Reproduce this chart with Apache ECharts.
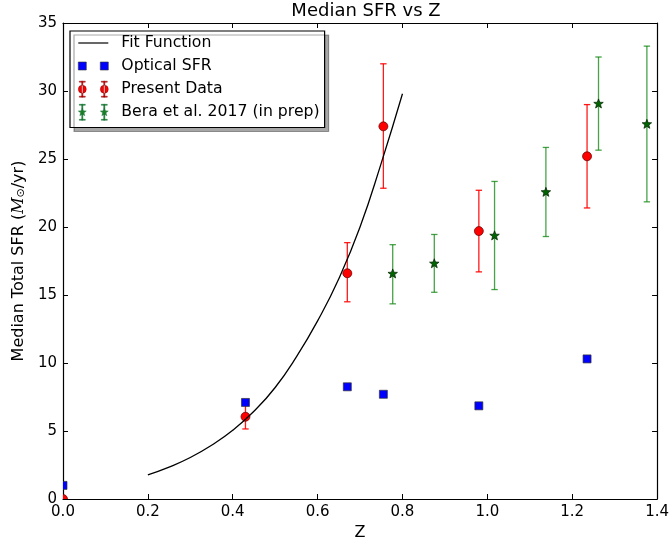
<!DOCTYPE html>
<html><head><meta charset="utf-8">
<script src="https://cdn.jsdelivr.net/npm/echarts@6/dist/echarts.min.js"></script>
<style>html,body{margin:0;padding:0;background:#fff}#c{width:672px;height:547px}</style>
</head><body><div id="c"></div>
<script>
// ---- data ----
const fitZ   = [0.20, 0.25, 0.30, 0.35, 0.40, 0.45, 0.50, 0.55, 0.60, 0.65, 0.70, 0.75, 0.80];
const fitSFR = [1.78, 2.35, 3.05, 3.95, 5.05, 6.45, 8.2, 10.45, 13.1, 16.2, 20.0, 24.7, 29.8];

const opticalZ   = [0, 0.43, 0.67, 0.755, 0.98, 1.235];
const opticalSFR = [1.0, 7.1, 8.25, 7.7, 6.85, 10.3];

const presentZ   = [0, 0.43, 0.67, 0.755, 0.98, 1.235];
const presentSFR = [0, 6.05, 16.6, 27.4, 19.7, 25.2];
const presentLo  = [0, 5.15, 14.5, 22.85, 16.7, 21.4];
const presentHi  = [0, 6.95, 18.85, 32.0, 22.7, 29.0];

const beraZ   = [0.777, 0.875, 1.017, 1.138, 1.262, 1.376];
const beraSFR = [16.55, 17.3, 19.35, 22.55, 29.05, 27.55];
const beraLo  = [14.35, 15.2, 15.4, 19.3, 25.65, 21.85];
const beraHi  = [18.7, 19.45, 23.35, 25.85, 32.5, 33.3];

const xTicks = [0, 0.2, 0.4, 0.6, 0.8, 1.0, 1.2, 1.4];
const yTicks = [0, 5, 10, 15, 20, 25, 30, 35];

const title = 'Median SFR vs Z';
const legendNames = ['Fit Function', 'Optical SFR', 'Present Data', 'Bera et al. 2017 (in prep)'];

// ---- helpers ----
const FONT = 'DejaVu Sans';
function starPath(cx, cy, R, r) {
  let d = '';
  for (let i = 0; i < 10; i++) {
    const ang = (-90 + i * 36) * Math.PI / 180;
    const rad = i % 2 === 0 ? R : r;
    const x = (cx + rad * Math.cos(ang)).toFixed(3);
    const y = (cy + rad * Math.sin(ang)).toFixed(3);
    d += (i === 0 ? 'M' : 'L') + x + ',' + y + ' ';
  }
  return d + 'Z';
}
function circlePath(cx, cy, r) {
  return `M${cx - r},${cy} a${r},${r} 0 1,0 ${2 * r},0 a${r},${r} 0 1,0 ${-2 * r},0 Z`;
}
function errPath(cx) {
  return `M${cx - 0.6},0 L${cx + 0.6},0 L${cx + 0.6},16 L${cx - 0.6},16 Z ` +
         `M${cx - 3},0 L${cx + 3},0 L${cx + 3},1 L${cx - 3},1 Z ` +
         `M${cx - 3},15 L${cx + 3},15 L${cx + 3},16 L${cx - 3},16 Z`;
}
const bbox = 'M0,0 L0,0 M38,16 L38,16 ';
const iconLine = 'path://' + bbox + 'M0,7.4 L30,7.4 L30,8.6 L0,8.6 Z';
const iconSquares = 'path://' + bbox + 'M0,4 L8,4 L8,12 L0,12 Z M22,4 L30,4 L30,12 L22,12 Z';
const iconPresent = 'path://' + bbox + errPath(4) + ' ' + errPath(26) + ' ' + circlePath(4, 8, 4) + ' ' + circlePath(26, 8, 4);
const iconBera = 'path://' + bbox + errPath(4) + ' ' + errPath(26) + ' ' + starPath(4, 8, 4.2, 1.8) + ' ' + starPath(26, 8, 4.2, 1.8);

function errRender(color) {
  return function (params, api) {
    const x = api.value(0), lo = api.value(2), hi = api.value(3);
    if (lo === hi) return null;
    const a = api.coord([x, lo]), b = api.coord([x, hi]);
    const w = 3.2;
    const st = { stroke: color, lineWidth: 1.3 };
    return {
      type: 'group', children: [
        { type: 'line', shape: { x1: a[0], y1: a[1], x2: b[0], y2: b[1] }, style: st },
        { type: 'line', shape: { x1: a[0] - w, y1: a[1], x2: a[0] + w, y2: a[1] }, style: st },
        { type: 'line', shape: { x1: b[0] - w, y1: b[1], x2: b[0] + w, y2: b[1] }, style: st }
      ]
    };
  };
}
function markerRender(kind, fill, stroke) {
  return function (params, api) {
    const p = api.coord([api.value(0), api.value(1)]);
    const style = { fill: fill, stroke: stroke, lineWidth: 0.7 };
    if (kind === 'circle') return { type: 'circle', shape: { cx: p[0], cy: p[1], r: 4.5 }, style };
    if (kind === 'rect') return { type: 'rect', shape: { x: p[0] - 4, y: p[1] - 4, width: 8, height: 8 }, style };
    return { type: 'path', shape: { pathData: starPath(p[0], p[1], 5, 2.1) }, style };
  };
}
const zip2 = (xs, ys) => xs.map((x, i) => [x, ys[i]]);
const zip4 = (xs, ys, lo, hi) => xs.map((x, i) => [x, ys[i], lo[i], hi[i]]);

const axisCommon = {
  axisLine: { show: true, onZero: false, lineStyle: { color: '#000', width: 1.2 } },
  axisTick: { show: true, inside: true, length: 5, lineStyle: { color: '#000', width: 1 } },
  splitLine: { show: false }
};

const chart = echarts.init(document.getElementById('c'), null, { renderer: 'canvas' });
chart.setOption({
  animation: false,
  backgroundColor: '#fff',
  title: {
    text: title, left: 361, top: -3, textAlign: 'center',
    textStyle: { fontFamily: FONT, fontSize: 18, fontWeight: 'normal', color: '#000' }
  },
  grid: { left: 63, right: 13, top: 23, bottom: 48, containLabel: false },
  legend: {
    orient: 'vertical', left: 70, top: 31,
    padding: [4, 5, 7, 8],
    itemWidth: 38, itemHeight: 16, itemGap: 6.7,
    backgroundColor: '#fff', borderColor: '#000', borderWidth: 1.2, borderRadius: 0,
    shadowColor: 'rgba(0,0,0,0.35)', shadowOffsetX: 4, shadowOffsetY: 4, shadowBlur: 0,
    textStyle: { fontFamily: FONT, fontSize: 15.7, color: '#000', lineHeight: 16 },
    selectedMode: false,
    data: [
      { name: legendNames[0], icon: iconLine, itemStyle: { color: '#000', borderWidth: 0 } },
      { name: legendNames[1], icon: iconSquares, itemStyle: { color: '#0000ff', borderColor: '#333', borderWidth: 0.6 } },
      { name: legendNames[2], icon: iconPresent, itemStyle: { color: '#ff0000', borderColor: '#600', borderWidth: 0.4 } },
      { name: legendNames[3], icon: iconBera, itemStyle: { color: '#2a8a2a', borderColor: '#063', borderWidth: 0.4 } }
    ]
  },
  xAxis: [
    Object.assign({
      type: 'value', min: xTicks[0], max: xTicks[xTicks.length - 1], interval: 0.2,
      position: 'bottom',
      name: 'Z', nameLocation: 'middle', nameGap: 25,
      nameTextStyle: { fontFamily: FONT, fontSize: 16, color: '#000' },
      axisLabel: { show: true, margin: 6, fontFamily: FONT, fontSize: 15, color: '#000',
        formatter: v => v.toFixed(1) }
    }, axisCommon),
    Object.assign({
      type: 'value', min: xTicks[0], max: xTicks[xTicks.length - 1], interval: 0.2,
      position: 'top', axisLabel: { show: false }
    }, axisCommon)
  ],
  yAxis: [
    Object.assign({
      type: 'value', min: yTicks[0], max: yTicks[yTicks.length - 1], interval: 5,
      position: 'left',
      name: '{n|Median Total SFR (}{m|M}{s|⊙}{n|/yr)}', nameLocation: 'middle', nameGap: 35, nameRotate: 90,
      nameTextStyle: {
        fontFamily: FONT, fontSize: 16, color: '#000',
        rich: {
          n: { fontFamily: FONT, fontSize: 16, color: '#000' },
          m: { fontFamily: 'DejaVu Serif', fontStyle: 'italic', fontSize: 16, color: '#000' },
          s: { fontFamily: FONT, fontSize: 11, color: '#000', padding: [6, 0, 0, 0] }
        }
      },
      axisLabel: { show: true, margin: 6, fontFamily: FONT, fontSize: 15, color: '#000' }
    }, axisCommon),
    Object.assign({
      type: 'value', min: yTicks[0], max: yTicks[yTicks.length - 1], interval: 5,
      position: 'right', axisLabel: { show: false }
    }, axisCommon)
  ],
  series: [
    {
      name: 'presentErr', type: 'custom', clip: true, z: 2,
      renderItem: errRender('rgba(255,0,0,0.9)'),
      encode: { x: 0, y: 1 },
      data: zip4(presentZ, presentSFR, presentLo, presentHi)
    },
    {
      name: 'beraErr', type: 'custom', clip: true, z: 2,
      renderItem: errRender('rgba(0,128,0,0.72)'),
      encode: { x: 0, y: 1 },
      data: zip4(beraZ, beraSFR, beraLo, beraHi)
    },
    {
      name: legendNames[2], type: 'custom', z: 3, clip: true,
      renderItem: markerRender('circle', '#ff0000', '#5a0000'),
      itemStyle: { color: '#ff0000' },
      encode: { x: 0, y: 1 },
      data: zip2(presentZ, presentSFR)
    },
    {
      name: legendNames[3], type: 'custom', z: 3, clip: true,
      renderItem: markerRender('star', '#006400', '#002000'),
      itemStyle: { color: '#006400' },
      encode: { x: 0, y: 1 },
      data: zip2(beraZ, beraSFR)
    },
    {
      name: legendNames[1], type: 'custom', z: 4, clip: true,
      renderItem: markerRender('rect', '#0000ff', '#333'),
      itemStyle: { color: '#0000ff' },
      encode: { x: 0, y: 1 },
      data: zip2(opticalZ, opticalSFR)
    },
    {
      name: legendNames[0], type: 'line', z: 5, smooth: 0.5, showSymbol: false,
      lineStyle: { color: '#000', width: 1.3 }, itemStyle: { color: '#000' },
      data: zip2(fitZ, fitSFR)
    }
  ]
});
</script>
</body></html>
